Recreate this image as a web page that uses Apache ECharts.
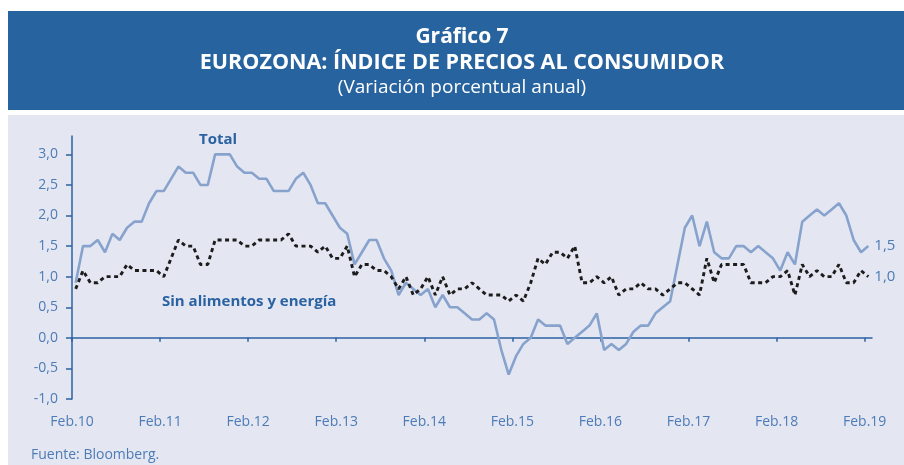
<!DOCTYPE html>
<html lang="es">
<head>
<meta charset="UTF-8">
<title>Gráfico 7</title>
<style>
  html, body { margin: 0; padding: 0; background: #fff; }
  #main { width: 904px; height: 465px; }
</style>
</head>
<body>
<div id="main"></div>
<script src="https://cdn.jsdelivr.net/npm/echarts@6/dist/echarts.min.js"></script>
<script>
  // meses: Feb.10 ... Feb.19
  const meses = []
  for (let a = 2010; a <= 2019; a++) {
    for (let m = 1; m <= 12; m++) {
      if ((a === 2010 && m < 2) || (a === 2019 && m > 2)) continue
      meses.push(m + '/' + a)
    }
  }
  const etiquetasX = ['Feb.10', 'Feb.11', 'Feb.12', 'Feb.13', 'Feb.14', 'Feb.15', 'Feb.16', 'Feb.17', 'Feb.18', 'Feb.19']
  const ticksY = [-1, -0.5, 0, 0.5, 1, 1.5, 2, 2.5, 3]

  // IPC total (var. % anual)
  const total = [
    0.9, 1.5, 1.5, 1.6, 1.4, 1.7, 1.6, 1.8, 1.9, 1.9, 2.2,         // 2010 feb-dic
    2.4, 2.4, 2.6, 2.8, 2.7, 2.7, 2.5, 2.5, 3.0, 3.0, 3.0, 2.8,    // 2011
    2.7, 2.7, 2.6, 2.6, 2.4, 2.4, 2.4, 2.6, 2.7, 2.5, 2.2, 2.2,    // 2012
    2.0, 1.8, 1.7, 1.2, 1.4, 1.6, 1.6, 1.3, 1.1, 0.7, 0.9, 0.8,    // 2013
    0.7, 0.8, 0.5, 0.7, 0.5, 0.5, 0.4, 0.3, 0.3, 0.4, 0.3, -0.2,   // 2014
    -0.6, -0.3, -0.1, 0.0, 0.3, 0.2, 0.2, 0.2, -0.1, 0.0, 0.1, 0.2, // 2015
    0.4, -0.2, -0.1, -0.2, -0.1, 0.1, 0.2, 0.2, 0.4, 0.5, 0.6, 1.2, // 2016
    1.8, 2.0, 1.5, 1.9, 1.4, 1.3, 1.3, 1.5, 1.5, 1.4, 1.5, 1.4,    // 2017
    1.3, 1.1, 1.4, 1.2, 1.9, 2.0, 2.1, 2.0, 2.1, 2.2, 2.0, 1.6,    // 2018
    1.4, 1.5                                                       // 2019
  ]

  // sin alimentos y energía
  const subyacente = [
    0.8, 1.1, 0.9, 0.9, 1.0, 1.0, 1.0, 1.2, 1.1, 1.1, 1.1,         // 2010 feb-dic
    1.1, 1.0, 1.3, 1.6, 1.5, 1.5, 1.2, 1.2, 1.6, 1.6, 1.6, 1.6,    // 2011
    1.5, 1.5, 1.6, 1.6, 1.6, 1.6, 1.7, 1.5, 1.5, 1.5, 1.4, 1.5,    // 2012
    1.3, 1.3, 1.5, 1.0, 1.2, 1.2, 1.1, 1.1, 1.0, 0.8, 1.0, 0.7,    // 2013
    0.8, 1.0, 0.7, 1.0, 0.7, 0.8, 0.8, 0.9, 0.8, 0.7, 0.7, 0.7,    // 2014
    0.6, 0.7, 0.6, 0.9, 1.3, 1.2, 1.4, 1.4, 1.3, 1.5, 0.9, 0.9,    // 2015
    1.0, 0.9, 1.0, 0.7, 0.8, 0.8, 0.9, 0.8, 0.8, 0.7, 0.8, 0.9,    // 2016
    0.9, 0.8, 0.7, 1.3, 0.9, 1.2, 1.2, 1.2, 1.2, 0.9, 0.9, 0.9,    // 2017
    1.0, 1.0, 1.1, 0.7, 1.2, 1.0, 1.1, 1.0, 1.0, 1.2, 0.9, 0.9,    // 2018
    1.1, 1.0                                                       // 2019
  ]

  const azul = '#2b62a2'
  const azulTexto = '#4d7bb6'
  const fmt = v => v.toFixed(1).replace('.', ',')
  // cada dato se centra en su mes (los ticks marcan el inicio de febrero)
  const puntos = serie => serie.map((v, i) => [i + 0.5, v])

  const myChart = echarts.init(document.getElementById('main'))

  const option = {
    backgroundColor: '#fff',
    animation: false,
    textStyle: { fontFamily: 'Open Sans' },
    graphic: [
      { type: 'rect', z: -10, shape: { x: 8, y: 11, width: 896, height: 99 }, style: { fill: '#27639e' } },
      { type: 'rect', z: -10, shape: { x: 8, y: 115, width: 896, height: 350 }, style: { fill: '#e4e7f2' } },
      { type: 'text', x: 462, y: 37, style: { text: 'Gráfico 7', fill: '#fff', font: 'bold 21px "Open Sans"', align: 'center', verticalAlign: 'middle' } },
      { type: 'text', x: 462, y: 63, style: { text: 'EUROZONA: ÍNDICE DE PRECIOS AL CONSUMIDOR', fill: '#fff', font: 'bold 21.5px "Open Sans"', align: 'center', verticalAlign: 'middle' } },
      { type: 'text', x: 462, y: 88, style: { text: '(Variación porcentual anual)', fill: '#fff', font: '19px "Open Sans"', align: 'center', verticalAlign: 'middle' } },
      { type: 'text', x: 218, y: 140, style: { text: 'Total', fill: azul, font: 'bold 15px "Open Sans"', align: 'center', verticalAlign: 'middle' } },
      { type: 'text', x: 162, y: 302, style: { text: 'Sin alimentos y energía', fill: azul, font: 'bold 15px "Open Sans"', align: 'left', verticalAlign: 'middle' } },
      { type: 'text', x: 31, y: 455, style: { text: 'Fuente: Bloomberg.', fill: azulTexto, font: '14px "Open Sans"', align: 'left', verticalAlign: 'middle' } }
    ],
    grid: { left: 72, right: 32, top: 136, bottom: 66 },
    xAxis: [
      {
        type: 'value', min: 0, max: meses.length,
        axisLine: { show: true, onZero: true, lineStyle: { color: azul, width: 1.5 } },
        axisTick: { show: true, length: 4, customValues: etiquetasX.map((e, i) => i * 12), lineStyle: { color: azul, width: 1.5 } },
        axisLabel: { show: false },
        splitLine: { show: false }
      },
      {
        type: 'value', min: 0, max: meses.length, position: 'bottom',
        axisLine: { show: false, onZero: false },
        axisTick: { show: false },
        axisLabel: {
          show: true, margin: 16, color: azulTexto, fontSize: 14,
          customValues: etiquetasX.map((e, i) => i * 12),
          formatter: v => etiquetasX[v / 12] || ''
        },
        splitLine: { show: false }
      }
    ],
    yAxis: {
      type: 'value', min: -1, max: 3.3,
      axisLine: { show: true, lineStyle: { color: azul, width: 1.5 } },
      axisTick: { show: true, length: 6, customValues: ticksY, lineStyle: { color: azul, width: 1.5 } },
      axisLabel: { color: azulTexto, fontSize: 14, margin: 14, customValues: ticksY, formatter: fmt },
      splitLine: { show: false }
    },
    series: [
      {
        name: 'Total', type: 'line', xAxisIndex: 0, data: puntos(total),
        showSymbol: false, symbol: 'none',
        lineStyle: { color: '#87a3cd', width: 2.6 },
        endLabel: { show: true, distance: 6, color: azulTexto, fontSize: 15, formatter: p => fmt(p.value[1]) },
        z: 2
      },
      {
        name: 'Sin alimentos y energía', type: 'line', xAxisIndex: 0, data: puntos(subyacente),
        showSymbol: false, symbol: 'none',
        lineStyle: { color: '#1c1c1c', width: 2.9, type: [4, 3.5] },
        endLabel: { show: true, distance: 6, color: azulTexto, fontSize: 15, formatter: p => fmt(p.value[1]) },
        z: 3
      }
    ]
  }

  myChart.setOption(option)
</script>
</body>
</html>
